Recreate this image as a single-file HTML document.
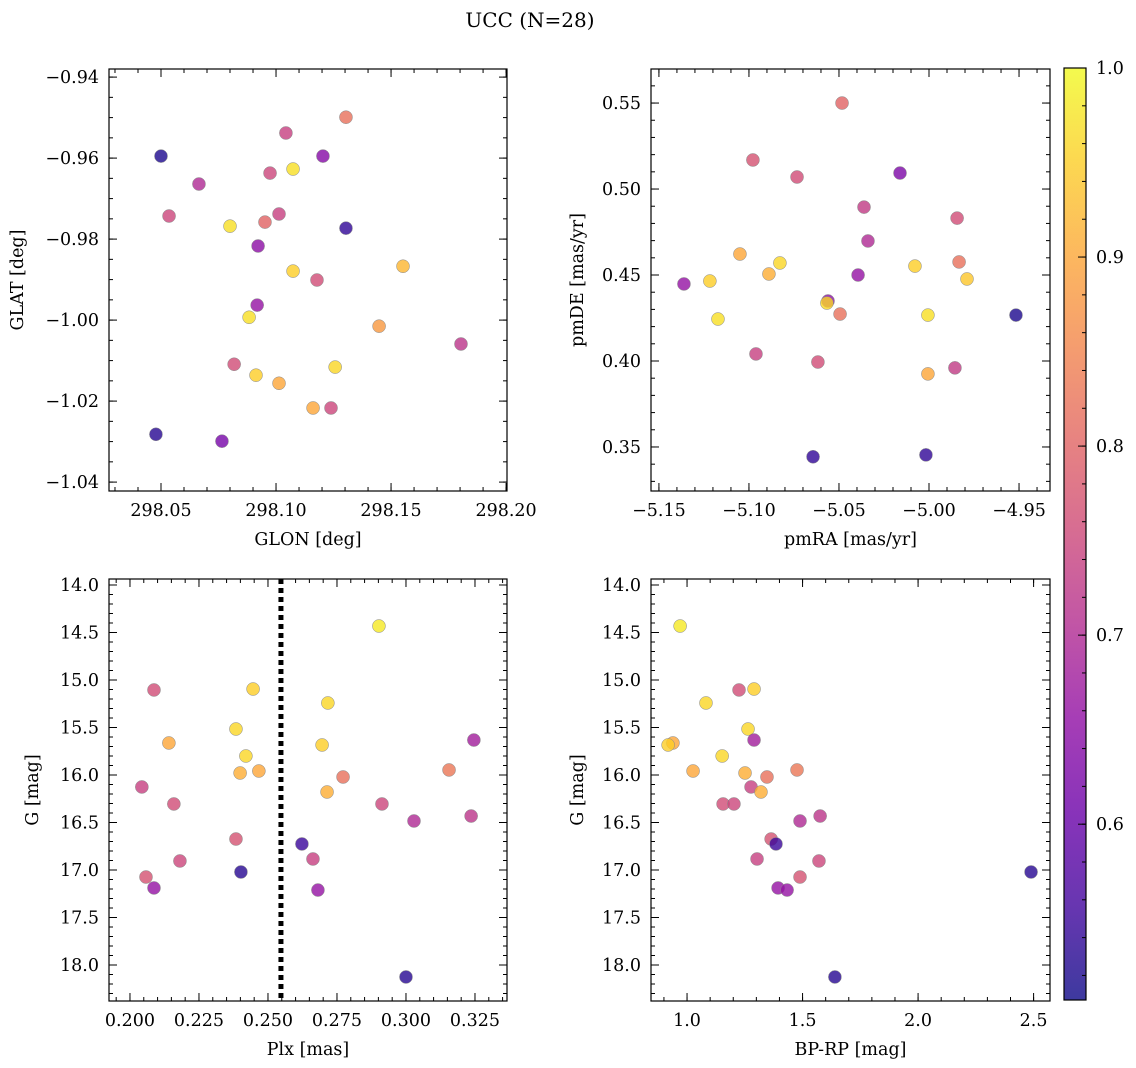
<!DOCTYPE html>
<html><head><meta charset="utf-8"><style>
html,body{margin:0;padding:0;background:#fff;}
svg{display:block;font-family:"DejaVu Serif","Liberation Serif",serif;}
</style></head><body>
<svg id="fig" width="1136" height="1068" viewBox="0 0 1136 1068" xmlns="http://www.w3.org/2000/svg">
<defs>
<linearGradient id="cbgrad" x1="0" y1="1" x2="0" y2="0"></linearGradient>
</defs>
<text x="530" y="27" font-size="20" text-anchor="middle">UCC (N=28)</text>
</svg>
<script>
// ---- data (per panel) ----
const glon = [298.0500,298.0535,298.0665,298.0800,298.0952,298.0922,298.0974,298.1043,298.1013,298.1074,298.1204,298.1304,298.1304,298.1074,298.1178,298.0918,298.0883,298.1552,298.0818,298.0913,298.1013,298.1257,298.1448,298.1804,298.1161,298.1239,298.0478,298.0765];
const glat = [-0.9595,-0.9743,-0.9664,-0.9768,-0.9758,-0.9817,-0.9637,-0.9538,-0.9738,-0.9627,-0.9595,-0.9499,-0.9773,-0.9879,-0.9901,-0.9963,-0.9993,-0.9867,-1.0109,-1.0136,-1.0156,-1.0116,-1.0015,-1.0059,-1.0217,-1.0217,-1.0282,-1.0299];
const probPos = [0.52,0.75,0.70,0.97,0.80,0.65,0.75,0.74,0.74,0.97,0.64,0.82,0.54,0.95,0.76,0.66,0.97,0.92,0.76,0.95,0.90,0.96,0.88,0.72,0.90,0.75,0.53,0.62];
const pmra = [-5.0483,-5.0978,-5.0733,-5.0161,-5.0361,-5.0339,-4.9844,-5.1050,-5.0828,-5.1217,-5.1361,-5.0889,-5.0394,-5.0078,-4.9833,-4.9789,-5.1172,-5.0561,-5.0567,-5.0494,-5.0006,-4.9517,-5.0961,-5.0617,-5.0006,-4.9856,-5.0644,-5.0017];
const pmde = [0.5500,0.5169,0.5070,0.5093,0.4895,0.4698,0.4831,0.4622,0.4570,0.4465,0.4448,0.4506,0.4500,0.4552,0.4576,0.4477,0.4244,0.4349,0.4337,0.4273,0.4267,0.4267,0.4041,0.3994,0.3925,0.3960,0.3443,0.3454];
const probPm = [0.80,0.77,0.76,0.63,0.73,0.70,0.76,0.90,0.96,0.95,0.66,0.91,0.66,0.95,0.82,0.94,0.97,0.65,0.96,0.82,0.97,0.52,0.74,0.76,0.90,0.73,0.54,0.54];
const plx = [0.2902,0.2087,0.2446,0.2717,0.2141,0.2384,0.3246,0.2420,0.2696,0.2399,0.2467,0.2043,0.2159,0.2714,0.2772,0.3156,0.2913,0.3029,0.3236,0.2384,0.2623,0.2663,0.2181,0.2058,0.2087,0.2402,0.2681,0.3000];
const gmag = [14.432,15.105,15.095,15.242,15.663,15.516,15.632,15.800,15.684,15.979,15.958,16.126,16.305,16.179,16.021,15.947,16.305,16.484,16.432,16.674,16.726,16.884,16.905,17.074,17.189,17.021,17.211,18.126];
const bprp = [0.970,1.225,1.290,1.082,0.939,1.264,1.290,1.152,0.918,1.251,1.026,1.277,1.156,1.320,1.346,1.476,1.203,1.489,1.576,1.364,1.385,1.303,1.571,1.489,1.394,2.489,1.433,1.640];
const probPhot = [0.98,0.76,0.95,0.96,0.90,0.96,0.68,0.96,0.95,0.91,0.90,0.74,0.76,0.91,0.82,0.83,0.75,0.70,0.72,0.77,0.55,0.74,0.75,0.77,0.66,0.53,0.66,0.53];
const plxMedian = 0.2547;
const glonTicks = [298.05,298.10,298.15,298.20];
const glatTicks = [-0.94,-0.96,-0.98,-1.00,-1.02,-1.04];
const pmraTicks = [-5.15,-5.10,-5.05,-5.00,-4.95];
const pmdeTicks = [0.35,0.40,0.45,0.50,0.55];
const plxTicks = [0.200,0.225,0.250,0.275,0.300,0.325];
const gTicks = [14.0,14.5,15.0,15.5,16.0,16.5,17.0,17.5,18.0];
const bprpTicks = [1.0,1.5,2.0,2.5];
const cbTicks = [0.6,0.7,0.8,0.9,1.0];
const vmin = 0.507, vmax = 1.0;

const NS = 'http://www.w3.org/2000/svg';
const svg = document.getElementById('fig');
const FS = 17.5;
function mk(tag, attrs, parent){const e=document.createElementNS(NS,tag);for(const k in attrs)e.setAttribute(k,attrs[k]);(parent||svg).appendChild(e);return e;}
const plasma=[[13,8,135],[65,4,157],[106,0,168],[143,13,164],[177,42,144],[204,71,120],[225,100,98],[242,132,75],[252,166,54],[252,206,37],[240,249,33]];
function cmap(v){let t=(v-vmin)/(vmax-vmin);t=Math.max(0,Math.min(1,t));const f=t*10;const i=Math.min(9,Math.floor(f));const r=f-i;const a=plasma[i],b=plasma[i+1];return 'rgb('+a.map((c,j)=>Math.round(c+(b[j]-c)*r)).join(',')+')';}
function lin(d0,d1,r0,r1){return v=>r0+(v-d0)/(d1-d0)*(r1-r0);}

function panel(o){
  const g=mk('g',{});
  
  
  const sx=lin(o.xd[0],o.xd[1],o.L,o.R), sy=lin(o.yd[0],o.yd[1],o.B,o.T);
  const xmin=Math.min(...o.xd),xmax=Math.max(...o.xd),ymin=Math.min(...o.yd),ymax=Math.max(...o.yd);
  for(let v=Math.ceil(xmin/o.xminor-1e-9)*o.xminor; v<=xmax+1e-9; v+=o.xminor){const x=sx(v);
    mk('line',{x1:x,x2:x,y1:o.B,y2:o.B-4,stroke:'#000','stroke-width':1},g);mk('line',{x1:x,x2:x,y1:o.T,y2:o.T+4,stroke:'#000','stroke-width':1},g);}
  for(let v=Math.ceil(ymin/o.yminor-1e-9)*o.yminor; v<=ymax+1e-9; v+=o.yminor){const y=sy(v);
    mk('line',{x1:o.L,x2:o.L+4,y1:y,y2:y,stroke:'#000','stroke-width':1},g);mk('line',{x1:o.R,x2:o.R-4,y1:y,y2:y,stroke:'#000','stroke-width':1},g);}
  o.xt.forEach(v=>{const x=sx(v);
    mk('line',{x1:x,x2:x,y1:o.B,y2:o.B-8,stroke:'#000','stroke-width':1},g);mk('line',{x1:x,x2:x,y1:o.T,y2:o.T+8,stroke:'#000','stroke-width':1},g);
    const t=mk('text',{x:x,y:o.B+25,'font-size':FS,'text-anchor':'middle'},g);t.textContent=v.toFixed(o.xdec).replace('-','\u2212');
    
    });
  o.yt.forEach(v=>{const y=sy(v);
    mk('line',{x1:o.L,x2:o.L+8,y1:y,y2:y,stroke:'#000','stroke-width':1},g);mk('line',{x1:o.R,x2:o.R-8,y1:y,y2:y,stroke:'#000','stroke-width':1},g);
    const t=mk('text',{x:o.L-10,y:y+6,'font-size':FS,'text-anchor':'end'},g);t.textContent=v.toFixed(o.ydec).replace('-','\u2212');
    
    });
  if(o.extra) o.extra(g,sx,sy);
  o.xs.forEach((v,i)=>{const c=mk('circle',{cx:sx(v),cy:sy(o.ys[i]),r:6.5,fill:cmap(o.c[i]),'fill-opacity':0.8,stroke:'#888','stroke-width':0.5},g);
    
    });
  const fr=mk('rect',{x:o.L,y:o.T,width:o.R-o.L,height:o.B-o.T,fill:'none',stroke:'#000','stroke-width':1.2},g);
  
  
  const xl=mk('text',{x:(o.L+o.R)/2,y:o.B+54,'font-size':FS,'text-anchor':'middle'},g);xl.textContent=o.xlab;
  
  
  const yl=mk('text',{x:0,y:0,'font-size':FS,'text-anchor':'middle',transform:'translate('+o.ylx+','+(o.T+o.B)/2+') rotate(-90)'},g);yl.textContent=o.ylab;
  
  
}
panel({name:'glon-glat-panel',L:109,R:507,T:69,B:491,xd:[298.0274,298.2004],yd:[-1.0422,-0.9380],xt:glonTicks,yt:glatTicks,xminor:0.01,yminor:0.005,xdec:2,ydec:2,xs:glon,ys:glat,c:probPos,xlab:'GLON [deg]',ylab:'GLAT [deg]',ylx:23});
panel({name:'pmra-pmde-panel',L:651,R:1050,T:69,B:491,xd:[-5.1544,-4.9328],yd:[0.3244,0.5698],xt:pmraTicks,yt:pmdeTicks,xminor:0.01,yminor:0.01,xdec:2,ydec:2,xs:pmra,ys:pmde,c:probPm,xlab:'pmRA [mas/yr]',ylab:'pmDE [mas/yr]',ylx:583});
panel({name:'plx-g-panel',L:109,R:507,T:579,B:1001,xd:[0.1924,0.3366],yd:[18.379,13.937],xt:plxTicks,yt:gTicks,xminor:0.005,yminor:0.1,xdec:3,ydec:1,xs:plx,ys:gmag,c:probPhot,xlab:'Plx [mas]',ylab:'G [mag]',ylx:38,
  extra:(g,sx,sy)=>{const l=mk('line',{x1:sx(plxMedian),x2:sx(plxMedian),y1:579,y2:1001,stroke:'#000','stroke-width':5,'stroke-dasharray':'5,4'},g);
    
    }});
panel({name:'bprp-g-panel',L:651,R:1050,T:579,B:1001,xd:[0.844,2.571],yd:[18.379,13.937],xt:bprpTicks,yt:gTicks,xminor:0.1,yminor:0.1,xdec:1,ydec:1,xs:bprp,ys:gmag,c:probPhot,xlab:'BP-RP [mag]',ylab:'G [mag]',ylx:583});

const grad=document.getElementById('cbgrad');
for(let i=0;i<=10;i++){mk('stop',{offset:(i*10)+'%','stop-color':'rgb('+plasma[i].join(',')+')','stop-opacity':0.8},grad);}
const cb=mk('g',{});


const cT=68,cB=1000,cL=1064,cR=1086;
mk('rect',{x:cL,y:cT,width:cR-cL,height:cB-cT,fill:'url(#cbgrad)',stroke:'#000','stroke-width':1.2},cb);
const cy=lin(vmin,vmax,cB,cT);
for(let v=0.52;v<=1.0001;v+=0.02){const y=cy(v);mk('line',{x1:cR,x2:cR-4,y1:y,y2:y,stroke:'#000','stroke-width':1},cb);}
cbTicks.forEach(v=>{const y=cy(v);mk('line',{x1:cR,x2:cR-8,y1:y,y2:y,stroke:'#000','stroke-width':1},cb);
  const t=mk('text',{x:cR+10,y:y+6,'font-size':FS},cb);t.textContent=v.toFixed(1);
  
  });
</script>
</body></html>
